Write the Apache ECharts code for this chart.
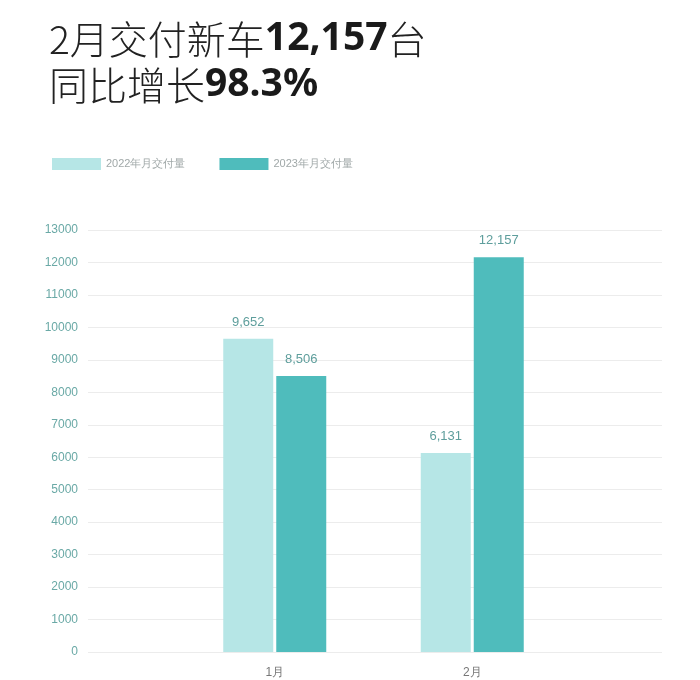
<!DOCTYPE html>
<html>
<head>
<meta charset="utf-8">
<script src="https://cdn.jsdelivr.net/npm/echarts@6/dist/echarts.min.js"></script>
<style>
  html, body { margin: 0; padding: 0; background: #fff; }
  #main { width: 700px; height: 680px; }
</style>
</head>
<body>
<div id="main"></div>
<script>
// months on the x axis
var months = ['1月', '2月'];
// deliveries per month
var data2022 = [9652, 6131];
var data2023 = [8506, 12157];
var seriesNames = ['2022年月交付量', '2023年月交付量'];

var lightColor = '#b6e6e6';
var darkColor = '#4fbcbc';
var labelColor = '#5e9e9c';

var chart = echarts.init(document.getElementById('main'));

var option = {
    backgroundColor: '#fff',
    animation: false,
    title: {
        left: 44,
        top: 11,
        text: '{n|2月交付新车}{b|12,157}{n|台}\n{n|同比增长}{b|98.3%}',
        textStyle: {
            fontWeight: 'normal',
            rich: {
                n: { fontSize: 39, color: '#222', fontWeight: 300, fontFamily: 'Noto Sans CJK SC', lineHeight: 46 },
                b: { fontSize: 39, color: '#1a1a1a', fontWeight: 'bold', fontFamily: 'Noto Sans', lineHeight: 46 }
            }
        }
    },
    legend: {
        left: 47,
        top: 153,
        itemWidth: 49,
        itemHeight: 12,
        itemGap: 34,
        icon: 'rect',
        data: seriesNames,
        textStyle: { color: '#a0a8a8', fontSize: 11 }
    },
    // grid 0 draws the y labels and split lines across the full width,
    // grid 1 holds the bars in a narrower band
    grid: [
        { left: 88, right: 38, top: 230, bottom: 28 },
        { left: 176, right: 129, top: 230, bottom: 28 }
    ],
    xAxis: [
        { gridIndex: 0, type: 'category', data: months, show: false },
        {
            gridIndex: 1,
            type: 'category',
            data: months,
            axisLine: { show: false },
            axisTick: { show: false },
            axisLabel: { color: '#777', fontSize: 12, margin: 15 }
        }
    ],
    yAxis: [
        {
            gridIndex: 0,
            type: 'value',
            min: 0,
            max: 13000,
            interval: 1000,
            axisLine: { show: false },
            axisTick: { show: false },
            axisLabel: {
                color: '#6aa9a6',
                fontSize: 12,
                margin: 10,
                formatter: function (v) { return String(v); }
            },
            splitLine: { lineStyle: { color: '#ececec', width: 1 } }
        },
        {
            gridIndex: 1,
            type: 'value',
            min: 0,
            max: 13000,
            interval: 1000,
            show: false
        }
    ],
    series: [
        {
            name: seriesNames[0],
            type: 'bar',
            xAxisIndex: 1,
            yAxisIndex: 1,
            data: data2022,
            barWidth: 50,
            barGap: '6%',
            itemStyle: { color: lightColor },
            label: {
                show: true,
                position: 'top',
                distance: 10,
                color: labelColor,
                fontSize: 13,
                formatter: function (p) { return p.value.toLocaleString('en-US'); }
            }
        },
        {
            name: seriesNames[1],
            type: 'bar',
            xAxisIndex: 1,
            yAxisIndex: 1,
            data: data2023,
            barWidth: 50,
            itemStyle: { color: darkColor },
            label: {
                show: true,
                position: 'top',
                distance: 10,
                color: labelColor,
                fontSize: 13,
                formatter: function (p) { return p.value.toLocaleString('en-US'); }
            }
        }
    ]
};

chart.setOption(option);
</script>
</body>
</html>
